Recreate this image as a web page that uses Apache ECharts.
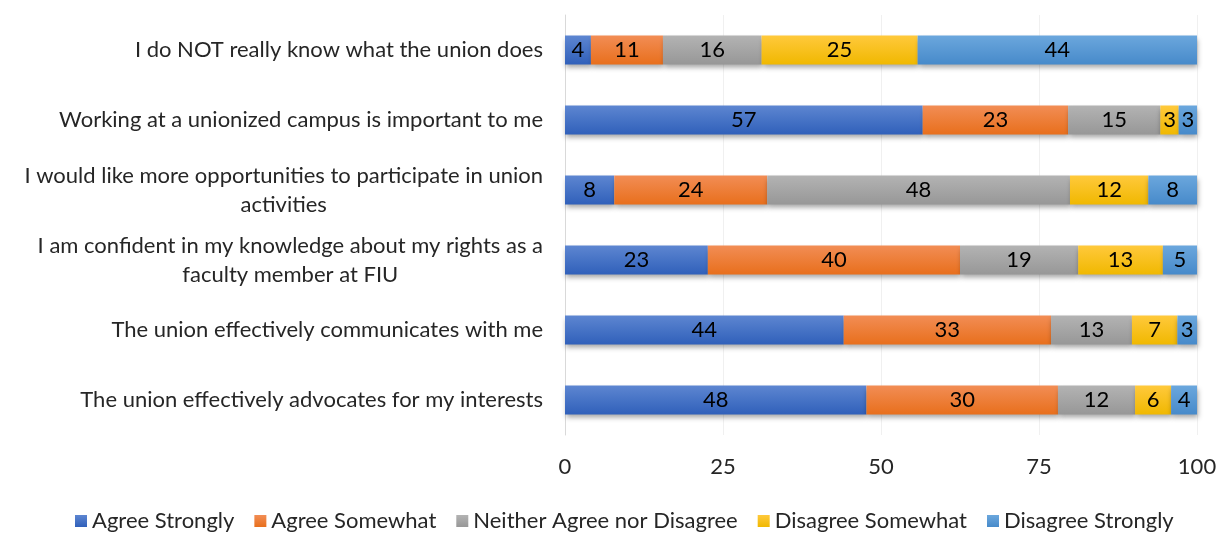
<!DOCTYPE html>
<html>
<head>
<meta charset="utf-8">
<script src="https://cdn.jsdelivr.net/npm/echarts@6/dist/echarts.min.js"></script>
<style>html,body{margin:0;padding:0;background:#fff}#c{width:1222px;height:533px}</style>
</head>
<body>
<div id="c"></div>
<script>
// Categories, top to bottom
const categories = [
  "I do NOT really know what the union does",
  "Working at a unionized campus is important to me",
  "I would like more opportunities to participate in union\nactivities",
  "I am confident in my knowledge about my rights as a\nfaculty member at FIU",
  "The union effectively communicates with me",
  "The union effectively advocates for my interests"
];
const seriesNames = ["Agree Strongly", "Agree Somewhat", "Neither Agree nor Disagree", "Disagree Somewhat", "Disagree Strongly"];
// values (percent) per category, top to bottom
const agreeStrongly    = [4.1, 56.6, 7.8, 22.6, 44.1, 47.7];
const agreeSomewhat    = [11.4, 23.0, 24.2, 39.9, 32.8, 30.3];
const neither          = [15.6, 14.6, 47.9, 18.7, 12.8, 12.2];
const disagreeSomewhat = [24.7, 2.9, 12.4, 13.4, 7.2, 5.7];
const disagreeStrongly = [44.2, 2.9, 7.7, 5.4, 3.1, 4.1];
const xTicks = [0, 25, 50, 75, 100];

const allData = [agreeStrongly, agreeSomewhat, neither, disagreeSomewhat, disagreeStrongly];
const gradients = [
  ["#5d86d1", "#3060ba"],
  ["#f28d55", "#e86f1c"],
  ["#b3b3b3", "#979797"],
  ["#ffc93c", "#f0b800"],
  ["#6ba7dd", "#478aca"]
];
const FS = 22;

const chart = echarts.init(document.getElementById('c'), null, {renderer: 'canvas'});
const series = seriesNames.map((name, i) => ({
  name: name,
  type: 'bar',
  stack: 'total',
  barWidth: 29,
  data: allData[i],
  itemStyle: {
    color: new echarts.graphic.LinearGradient(0, 0, 0, 1, [
      {offset: 0, color: gradients[i][0]},
      {offset: 1, color: gradients[i][1]}
    ]),
    shadowColor: 'rgba(0,0,0,0.35)',
    shadowBlur: 5,
    shadowOffsetX: 1,
    shadowOffsetY: 3
  },
  label: {
    show: true,
    position: 'inside',
    color: '#000',
    fontFamily: 'Lato',
    fontSize: FS,
    formatter: p => Math.round(p.value)
  },
  emphasis: {disabled: true}
}));

chart.setOption({
  animation: false,
  backgroundColor: '#fff',
  textStyle: {fontFamily: 'Lato'},
  grid: {left: 565, right: 25, top: 15, height: 420, containLabel: false},
  legend: {
    data: seriesNames,
    top: 510,
    left: 75,
    padding: 0,
    itemWidth: 12,
    itemHeight: 12,
    itemGap: 20,
    icon: 'rect',
    textStyle: {color: '#262626', fontSize: FS, fontFamily: 'Lato'}
  },
  xAxis: {
    type: 'value',
    min: 0,
    max: 100,
    interval: 25,
    axisLine: {show: false},
    axisTick: {show: false},
    splitLine: {show: true, lineStyle: {color: '#f0f0f0', width: 1}},
    axisLabel: {
      color: '#262626',
      fontSize: FS,
      fontFamily: 'Lato',
      margin: 21,
      formatter: v => xTicks.includes(v) ? String(v) : ''
    }
  },
  yAxis: {
    type: 'category',
    inverse: true,
    data: categories,
    axisLine: {show: true, lineStyle: {color: '#d9d9d9'}},
    axisTick: {show: false},
    axisLabel: {
      color: '#262626',
      fontSize: FS,
      fontFamily: 'Lato',
      margin: 22,
      lineHeight: 29,
      formatter: v => v.includes('\n') ? v.split('\n').map(s => '{c|' + s + '}').join('\n') : v,
      rich: {c: {align: 'center', fontSize: FS, fontFamily: 'Lato', color: '#262626', lineHeight: 29}}
    }
  },
  series: series
});
</script>
</body>
</html>
